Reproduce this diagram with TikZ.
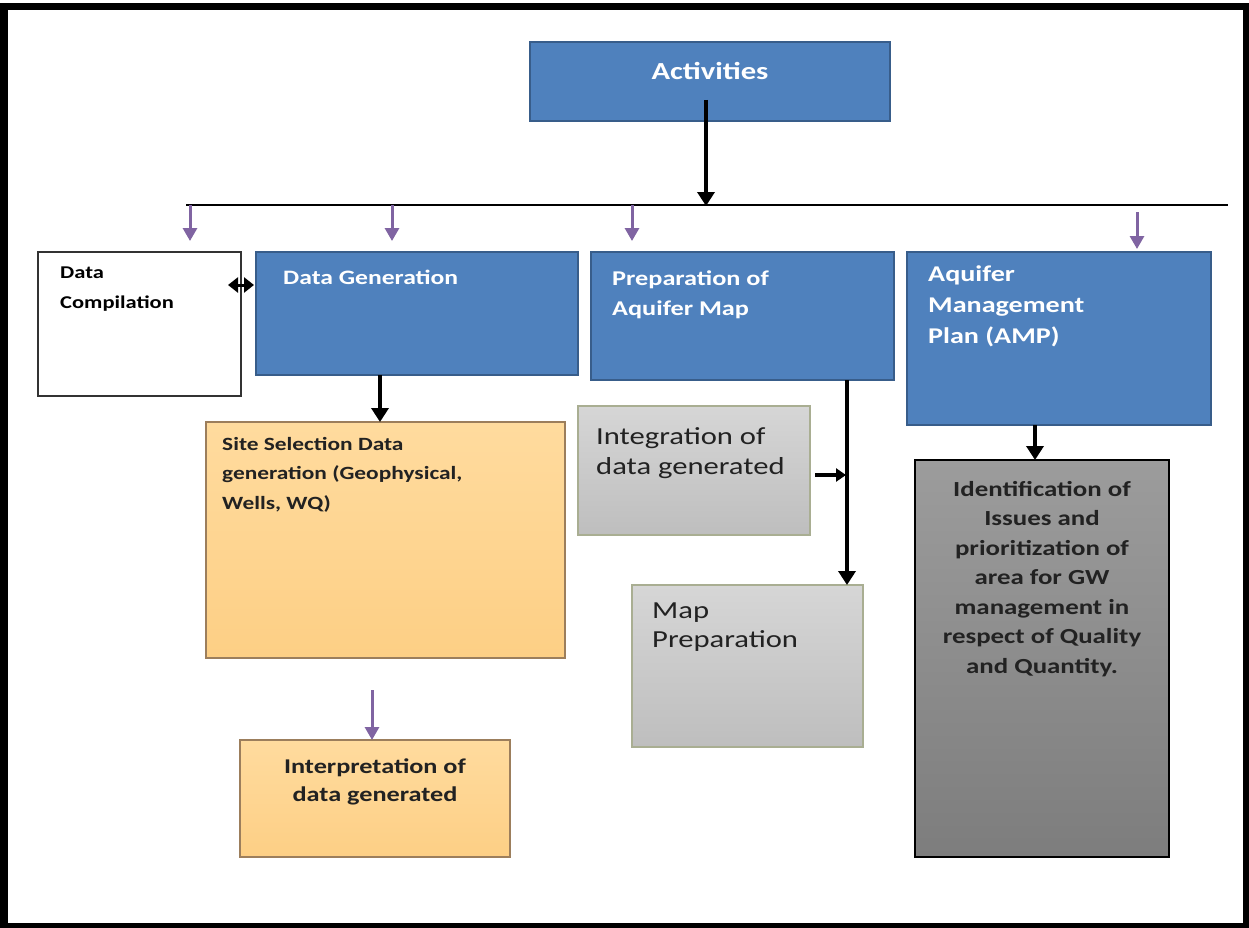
\documentclass[tikz,border=0pt]{standalone}
\usepackage{fontspec}
\setmainfont{Carlito}[FakeStretch=1.25]
\usetikzlibrary{arrows.meta,calc}
\definecolor{ofblue}{HTML}{4F81BD}
\definecolor{ofblueb}{HTML}{385D8A}
\definecolor{ofpurple}{HTML}{8064A2}
\definecolor{orgtop}{HTML}{FFDB9E}
\definecolor{orgbot}{HTML}{FDCF85}
\definecolor{orgb}{HTML}{9C7E5C}
\definecolor{grytop}{HTML}{D6D6D6}
\definecolor{grybot}{HTML}{BEBEBE}
\definecolor{gryb}{HTML}{A9AE92}
\definecolor{dktop}{HTML}{9C9C9C}
\definecolor{dkbot}{HTML}{7D7D7D}
\definecolor{txtdark}{HTML}{222222}
\tikzset{
  box/.style={line width=1.5pt, anchor=north west, inner sep=0pt, outer sep=0pt},
  bluebox/.style={box, draw=ofblueb, fill=ofblue},
  whitebox/.style={box, draw=black!80, fill=white},
  orangebox/.style={box, draw=orgb, top color=orgtop, bottom color=orgbot},
  graybox/.style={box, draw=gryb, top color=grytop, bottom color=grybot},
  darkbox/.style={box, draw=black, line width=2pt, top color=dktop, bottom color=dkbot},
  txt/.style={inner sep=0pt, anchor=north west, align=left},
  blk/.style={line width=3.5pt, -{Triangle[length=14pt,width=17pt]}},
  blksmall/.style={line width=3.5pt, -{Triangle[length=10pt,width=13pt]}},
  pur/.style={draw=ofpurple, line width=3pt, -{Triangle[length=13pt,width=14pt]}},
  bus/.style={line width=2pt}
}
\begin{document}
\begin{tikzpicture}[x=1pt,y=-1pt]
\useasboundingbox (0,0) rectangle (1249,928);
\fill[white] (0,0) rectangle (1249,928);
\fill[black] (0,3) rectangle (1249,928);
\fill[white] (8,10) rectangle (1243,923);

% boxes
\node[bluebox, minimum width=360pt, minimum height=79pt] (act) at (530,42) {};
\node[whitebox, minimum width=203pt, minimum height=144pt] (dc) at (38,252) {};
\node[bluebox, minimum width=322pt, minimum height=123pt] (dg) at (256,252) {};
\node[bluebox, minimum width=303pt, minimum height=128pt] (pam) at (591,252) {};
\node[bluebox, minimum width=304pt, minimum height=173pt] (amp) at (907,252) {};
\node[orangebox, minimum width=359pt, minimum height=236pt] (site) at (206,422) {};
\node[orangebox, minimum width=270pt, minimum height=117pt] (interp) at (240,740) {};
\node[graybox, minimum width=232pt, minimum height=129pt] (integ) at (578,406) {};
\node[graybox, minimum width=231pt, minimum height=162pt] (mapp) at (632,585) {};
\node[darkbox, minimum width=254pt, minimum height=397pt] (ident) at (915,460) {};

% texts
\node[txt, anchor=center, text=white, font=\bfseries\fontsize{24.5}{28}\selectfont] (actt) at (710,71) {Activities};
\node[txt, text=black, font=\bfseries\fontsize{18}{30}\selectfont] (dct) at (60,267) {Data\\Compilation};
\node[txt, text=white, font=\bfseries\fontsize{20.5}{30}\selectfont] (dgt) at (283,270) {Data Generation};
\node[txt, text=white, font=\bfseries\fontsize{21}{30}\selectfont] (pamt) at (612,271) {Preparation of\\Aquifer Map};
\node[txt, text=white, font=\bfseries\fontsize{22.5}{31}\selectfont] (ampt) at (928,266) {Aquifer\\Management\\Plan (AMP)};
\node[txt, text=txtdark, font=\bfseries\fontsize{18.7}{29.5}\selectfont] (sitet) at (222,437) {Site Selection Data\\generation (Geophysical,\\Wells, WQ)};
\node[txt, text=txtdark, font=\fontsize{24.5}{30}\selectfont] (integt) at (596,427) {Integration of\\data generated};
\node[txt, text=txtdark, font=\fontsize{24.5}{29}\selectfont] (mappt) at (652,603) {Map\\Preparation};
\node[txt, anchor=center, align=center, text=txtdark, font=\bfseries\fontsize{21}{28}\selectfont] (interpt) at (375,782) {Interpretation of\\data generated};
\node[txt, anchor=north, align=center, text=txtdark, font=\bfseries\fontsize{21.5}{29.5}\selectfont] (identt) at (1042,481) {Identification of\\Issues and\\prioritization of\\area for GW\\management in\\respect of Quality\\and Quantity.};

% bus line
\coordinate (bl) at (186,205);
\coordinate (br) at (1228,205);
\draw[bus] (bl) -- (br);

% activities to bus
\coordinate (a0) at (706,100);
\coordinate (a1) at (706,206);
\draw[blk] (a0) -- (a1);

% purple drops
\coordinate (p1s) at (190,205);  \coordinate (p1e) at (190,241);
\coordinate (p2s) at (392,205);  \coordinate (p2e) at (392,241);
\coordinate (p3s) at (632,205);  \coordinate (p3e) at (632,241);
\coordinate (p4s) at (1137,212); \coordinate (p4e) at (1137,249);
\draw[pur] (p1s) -- (p1e);
\draw[pur] (p2s) -- (p2e);
\draw[pur] (p3s) -- (p3e);
\draw[pur] (p4s) -- (p4e);

% data compilation <-> data generation
\draw[line width=3pt, {Triangle[length=10pt,width=15pt]}-{Triangle[length=10pt,width=15pt]}]
  ([xshift=-13pt,yshift=39pt]dc.east) -- ([xshift=-2pt,yshift=28.5pt]dg.west);

% data generation -> site selection
\draw[blk] ([xshift=-37pt]dg.south) -- ([xshift=-5.5pt]site.north);

% site selection -> interpretation
\coordinate (ip0) at (372,690);
\draw[pur] (ip0) -- ([xshift=-3pt]interp.north);

% preparation of aquifer map -> map preparation
\draw[blk] ([xshift=104.5pt]pam.south) -- ([xshift=99.5pt]mapp.north);

% integration -> vertical line
\coordinate (j1) at (846,475);
\draw[blksmall] ([xshift=5pt,yshift=-4.5pt]integ.east) -- (j1);

% AMP -> identification
\draw[blk] ([xshift=-24pt]amp.south) -- ([xshift=-7pt]ident.north);
\end{tikzpicture}
\end{document}
